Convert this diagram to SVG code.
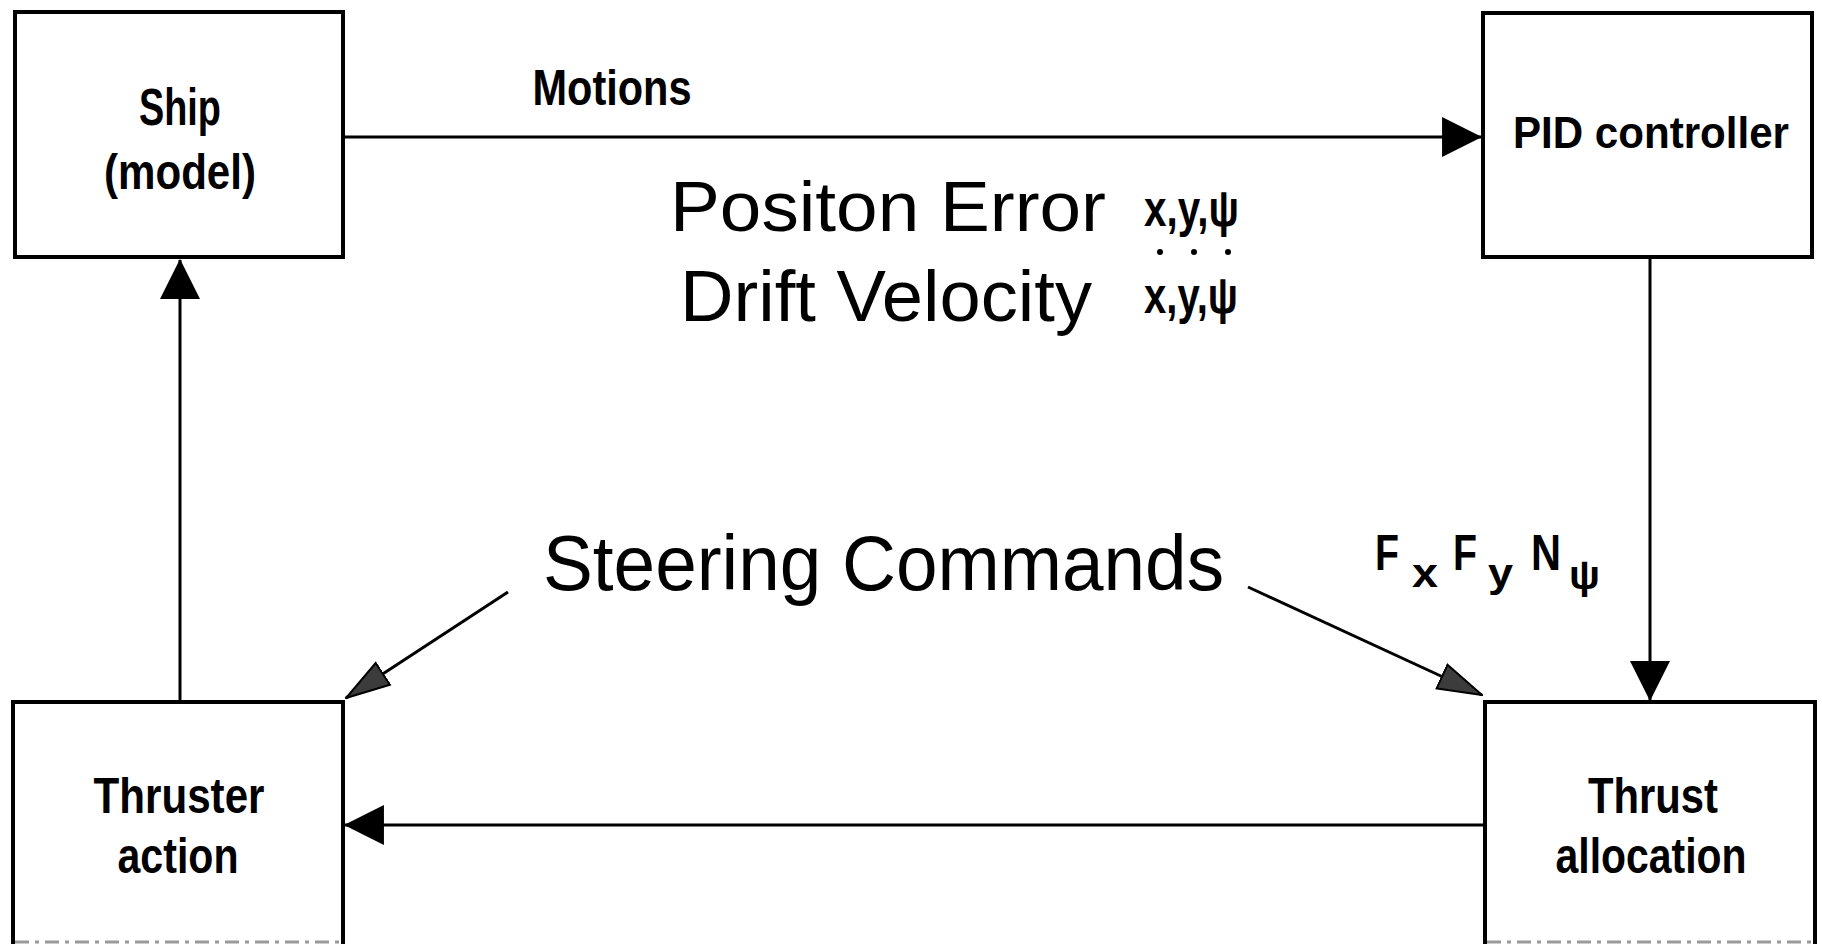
<svg xmlns="http://www.w3.org/2000/svg" width="1822" height="945" viewBox="0 0 1822 945">
<style>
  .box { fill: #ffffff; stroke: #000000; stroke-width: 4; }
  .edge { fill: none; stroke: #000000; stroke-width: 4; }
  .bottom { stroke: #9a9a9a; stroke-width: 3; stroke-dasharray: 14 6 4 6; }
  .conn { fill: none; stroke: #000000; stroke-width: 3; }
  .lbl { font-family: "Liberation Sans", Arial, sans-serif; font-weight: bold; fill: #000; text-anchor: middle; }
  .big { font-family: "Liberation Sans", Arial, sans-serif; fill: #000; }
  .sym { font-family: "Liberation Sans", "DejaVu Sans", sans-serif; font-weight: bold; fill: #000; }
</style>
<defs>
  <marker id="arrow" markerUnits="userSpaceOnUse" markerWidth="40" markerHeight="40" viewBox="0 0 38 38" refX="37" refY="19" orient="auto">
    <path d="M0,0 L38,19 L0,38 z" fill="#000"/>
  </marker>
  <marker id="grey" markerUnits="userSpaceOnUse" markerWidth="46" markerHeight="30" viewBox="0 0 46 30" refX="45" refY="15" orient="auto">
    <path d="M1,2 L45,15 L1,28 z" fill="#3c3c3c" stroke="#000" stroke-width="2"/>
  </marker>
</defs>

<g id="connectors">
  <line class="conn" x1="345" y1="137" x2="1481" y2="137" marker-end="url(#arrow)"/>
  <line class="conn" x1="1650" y1="259" x2="1650" y2="700" marker-end="url(#arrow)"/>
  <line class="conn" x1="1483" y1="825" x2="345" y2="825" marker-end="url(#arrow)"/>
  <line class="conn" x1="180" y1="700" x2="180" y2="260" marker-end="url(#arrow)"/>
  <line class="conn" x1="508" y1="592" x2="346" y2="698" marker-end="url(#grey)"/>
  <line class="conn" x1="1248" y1="587" x2="1482" y2="695" marker-end="url(#grey)"/>
</g>

<g id="ship">
  <rect class="box" x="15" y="12" width="328" height="245"/>
  <text class="lbl" x="180" y="125" font-size="52" textLength="82" lengthAdjust="spacingAndGlyphs">Ship</text>
  <text class="lbl" x="180" y="189" font-size="50" textLength="152" lengthAdjust="spacingAndGlyphs">(model)</text>
</g>

<g id="pid">
  <rect class="box" x="1483" y="13" width="329" height="244"/>
  <text class="lbl" x="1651" y="148" font-size="44" textLength="276" lengthAdjust="spacingAndGlyphs">PID controller</text>
</g>

<g id="thruster">
  <path class="edge" d="M13,944 L13,702 L343,702 L343,944"/>
  <line class="bottom" x1="15" y1="942" x2="341" y2="942"/>
  <text class="lbl" x="179" y="813" font-size="50" textLength="171" lengthAdjust="spacingAndGlyphs">Thruster</text>
  <text class="lbl" x="178" y="873" font-size="50" textLength="121" lengthAdjust="spacingAndGlyphs">action</text>
</g>

<g id="allocation">
  <path class="edge" d="M1485,944 L1485,702 L1815,702 L1815,944"/>
  <line class="bottom" x1="1487" y1="942" x2="1813" y2="942"/>
  <text class="lbl" x="1653" y="813" font-size="50" textLength="130" lengthAdjust="spacingAndGlyphs">Thrust</text>
  <text class="lbl" x="1651" y="873" font-size="50" textLength="191" lengthAdjust="spacingAndGlyphs">allocation</text>
</g>

<g id="labels">
  <text class="lbl" x="612" y="105" font-size="50" textLength="159" lengthAdjust="spacingAndGlyphs">Motions</text>

  <text class="big" x="670" y="231" font-size="70" textLength="436" lengthAdjust="spacingAndGlyphs">Positon Error</text>
  <text class="sym" x="1144" y="226" font-size="52" textLength="95" lengthAdjust="spacingAndGlyphs">x,y,ψ</text>
  <circle cx="1160" cy="252" r="3" fill="#000"/>
  <circle cx="1194" cy="252" r="3" fill="#000"/>
  <circle cx="1228" cy="252" r="3" fill="#000"/>
  <text class="big" x="680" y="321" font-size="72" textLength="412" lengthAdjust="spacingAndGlyphs">Drift Velocity</text>
  <text class="sym" x="1144" y="313" font-size="52" textLength="94" lengthAdjust="spacingAndGlyphs">x,y,ψ</text>

  <text class="big" x="543" y="590" font-size="78" textLength="681" lengthAdjust="spacingAndGlyphs">Steering Commands</text>

  <text class="sym" x="1375" y="570" font-size="50" textLength="24" lengthAdjust="spacingAndGlyphs">F</text>
  <text class="sym" x="1412" y="587" font-size="40" textLength="26" lengthAdjust="spacingAndGlyphs">x</text>
  <text class="sym" x="1453" y="570" font-size="50" textLength="24" lengthAdjust="spacingAndGlyphs">F</text>
  <text class="sym" x="1488" y="587" font-size="40" textLength="25" lengthAdjust="spacingAndGlyphs">y</text>
  <text class="sym" x="1531" y="570" font-size="50" textLength="30" lengthAdjust="spacingAndGlyphs">N</text>
  <text class="sym" x="1569" y="589" font-size="40" textLength="31" lengthAdjust="spacingAndGlyphs">ψ</text>
</g>
</svg>
